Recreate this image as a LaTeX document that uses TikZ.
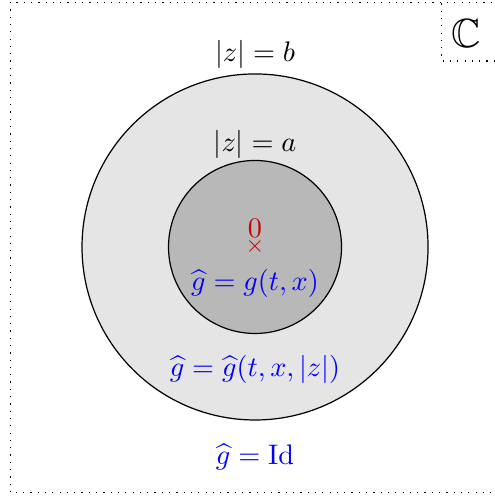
\documentclass[tikz,border=0pt]{standalone}
\usepackage{amssymb}
\begin{document}
\begin{tikzpicture}[x=1cm,y=1cm,
  every node/.append style={transform shape,scale=0.93},
  bluetext/.style={text=blue},
  redtext/.style={text=red!80!black}]
\useasboundingbox (-2.948,-2.948) rectangle (2.763,2.855);
\draw[dotted] (2.9,-2.84) -- (-2.83,-2.84) -- (-2.83,2.83) -- (2.9,2.83);
\draw[dotted] (2.16,2.9) -- (2.16,2.15) -- (2.9,2.15);
\node (C) at (2.44,2.47) {\Large$\mathbb{C}$};
\draw[fill=black!10] (0,0) circle (2);
\draw[fill=black!28] (0,0) circle (1);
\node (b) at (0,2.22) {$|z|=b$};
\node (a) at (0,1.18) {$|z|=a$};
\node[redtext,inner sep=0pt,scale=0.85] (o) at (0,0) {$\times$};
\node[redtext] (zero) at (0,0.21) {$0$};
\node[bluetext] (g1) at (0,-0.42) {$\widehat{g}=g(t,x)$};
\node[bluetext] (g2) at (0,-1.42) {$\widehat{g}=\widehat{g}(t,x,|z|)$};
\node[bluetext] (g3) at (0,-2.43) {$\widehat{g}=\mathrm{Id}$};
\end{tikzpicture}
\end{document}
